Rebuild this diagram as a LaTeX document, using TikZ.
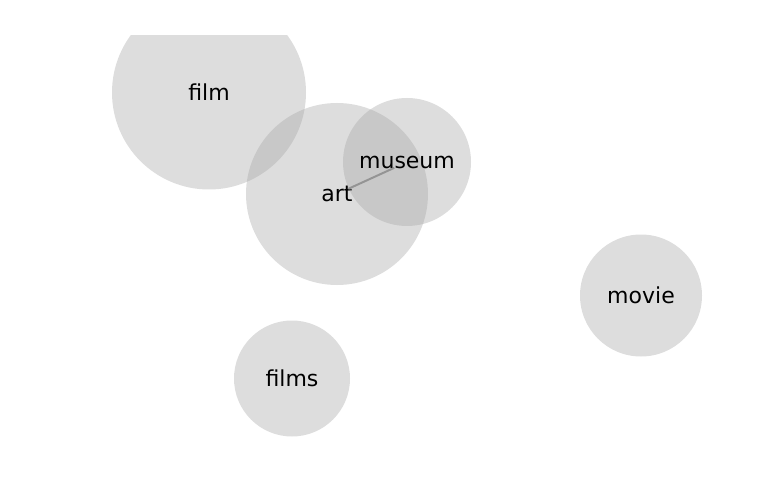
\documentclass[tikz,border=0pt]{standalone}
\usepackage{fontspec}
\setmainfont{DejaVu Sans}
\usetikzlibrary{positioning}

\begin{document}
\begin{tikzpicture}[
    x=1pt, y=-1pt,
    word/.style={circle, fill=black!35, fill opacity=0.38, text opacity=1, text=black, inner sep=0pt, font=\fontsize{22}{26}\selectfont},
    link/.style={draw=black!55, line width=2pt, opacity=0.6}
]
\useasboundingbox (0,0) rectangle (769,500);

\begin{scope}
\clip (0,36) rectangle (769,436);

% Circles
\node[word, minimum size=194pt] (film) at (209,92.5) {film};
\node[word, minimum size=182pt] (art) at (337,194) {art};
\node[word, minimum size=128pt] (museum) at (407,162) {museum};
\node[word, minimum size=122pt] (movie) at (641,295.5) {movie};
\node[word, minimum size=116pt] (films) at (292,378.5) {films};

% Connections
\draw[link, shorten <=12pt, shorten >=14pt] (art.center) -- (museum.center);
\end{scope}

\end{tikzpicture}
\end{document}
